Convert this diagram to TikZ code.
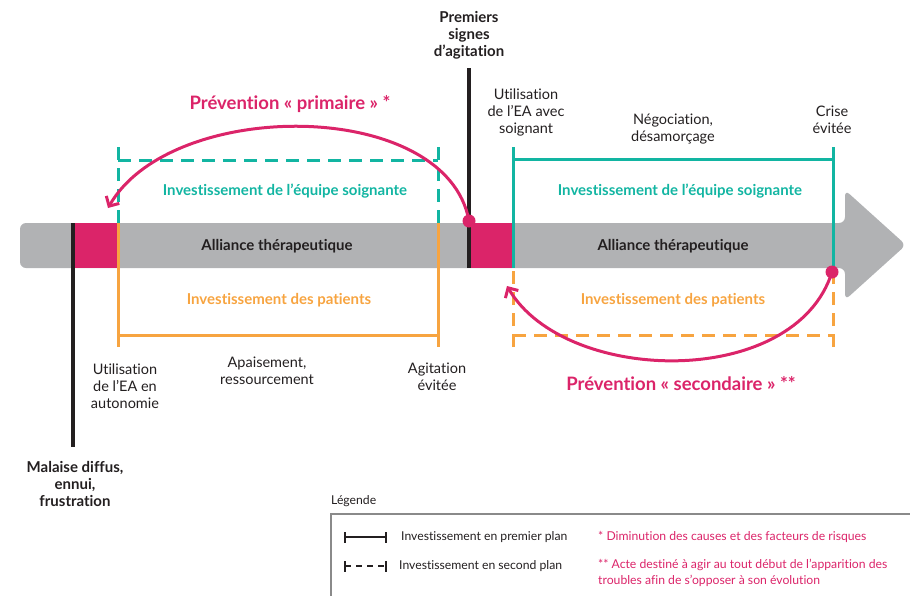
\documentclass[tikz,border=0pt]{standalone}
\usepackage{fontspec}
\setmainfont{Lato}[Ligatures=NoCommon]
\usetikzlibrary{arrows.meta}
\definecolor{mag}{HTML}{DB2469}
\definecolor{teal}{HTML}{12B5A2}
\definecolor{orng}{HTML}{F7A440}
\definecolor{bar}{HTML}{B1B2B4}
\definecolor{ink}{HTML}{231F20}
\definecolor{frame}{HTML}{8A8A8A}
\tikzset{
  lbl/.style={align=center,inner sep=0pt,text=ink,font=\fontsize{14.5}{17}\selectfont},
  blbl/.style={align=center,inner sep=0pt,text=ink,font=\fontsize{15}{17}\selectfont\bfseries},
  tlbl/.style={inner sep=0pt,text=teal,font=\fontsize{15}{17}\selectfont\bfseries},
  olbl/.style={inner sep=0pt,text=orng,font=\fontsize{15}{17}\selectfont\bfseries},
  alll/.style={inner sep=0pt,text=ink,font=\fontsize{15}{17}\selectfont\bfseries},
  prev/.style={inner sep=0pt,text=mag,font=\fontsize{18.5}{20}\selectfont\bfseries},
  leg/.style={inner sep=0pt,anchor=west,align=left,font=\fontsize{12.2}{15.5}\selectfont},
  blk/.style={line width=3.2pt,ink},
  tealbr/.style={line width=3pt,teal},
  orbr/.style={line width=3pt,orng},
  dsh/.style={dash pattern=on 13pt off 8pt},
  arc/.style={line width=3pt,mag,-{Straight Barb[length=7.5pt,width=15pt,line width=3pt]}},
}
\begin{document}
\begin{tikzpicture}[x=1pt,y=-1pt]
\useasboundingbox (0,0) rectangle (910,595);
\clip (0,0) rectangle (910,595);
% main bar arrow
\fill[bar,rounded corners=6pt] (20,223) -- (845,223) -- (845,190) -- (906,245) -- (845,300) -- (845,268) -- (20,268) -- cycle;
\fill[bar] (40,223) rectangle (845,268);
% magenta blocks
\fill[mag] (73,223) rectangle (118,268);
\fill[mag] (469,223) rectangle (513,268);
% coordinates
\coordinate (m1t) at (73,223);
\coordinate (m1b) at (73,447);
\coordinate (m2t) at (469,68);
\coordinate (m2b) at (469,268);
% black lines
\draw[blk] (m1t) -- (m1b);
\draw[blk] (m2t) -- (m2b);
% left teal dashed bracket
\draw[tealbr,dsh] (118,147) -- (118,223);
\draw[tealbr,dsh] (438,147) -- (438,223);
\draw[tealbr,dsh] (118,160) -- (438,160);
% left orange solid bracket
\draw[orbr] (118,223) -- (118,347);
\draw[orbr] (438,223) -- (438,347);
\draw[orbr] (118,335) -- (438,335);
% right teal solid bracket
\draw[tealbr] (513,147) -- (513,268);
\draw[tealbr] (833,147) -- (833,268);
\draw[tealbr] (513,159) -- (833,159);
% right orange dashed bracket
\draw[orbr,dsh] (513,347) -- (513,268);
\draw[orbr,dsh] (833,347) -- (833,268);
\draw[orbr,dsh] (513,335) -- (833,335);
% dots and arcs
\node[circle,fill=mag,minimum size=13pt,inner sep=0pt] (d1) at (469,221) {};
\node[circle,fill=mag,minimum size=13pt,inner sep=0pt] (d2) at (832,272) {};
\coordinate (a1) at (108,208);
\coordinate (a2) at (507,286);
\draw[arc] (d1.center) .. controls (447,98) and (172,97) .. (a1);
\draw[arc] (d2.center) .. controls (795,390) and (565,385) .. (a2);
% bar texts
\node[alll] (all1) at (277,246) {Alliance thérapeutique};
\node[alll] (all2) at (673,246) {Alliance thérapeutique};
\node[tlbl] (eq1) at (285,191) {Investissement de l’équipe soignante};
\node[tlbl] (eq2) at (680,191) {Investissement de l’équipe soignante};
\node[olbl] (pa1) at (279,300) {Investissement des patients};
\node[olbl] (pa2) at (673,300) {Investissement des patients};
\node[prev] (pr1) at (290,104) {Prévention « primaire » *};
\node[prev] (pr2) at (681,384) {Prévention « secondaire » **};
% other labels
\node[blbl] (prem) at (469,35) {Premiers\\signes\\d’agitation};
\node[lbl] (util2) at (526,112) {Utilisation\\de l’EA avec\\soignant};
\node[lbl] (nego) at (673,129) {Négociation,\\désamorçage};
\node[lbl] (crise) at (832,120) {Crise\\évitée};
\node[lbl] (util1) at (125,386) {Utilisation\\de l’EA en\\autonomie};
\node[lbl] (apai) at (267,371) {Apaisement,\\ressourcement};
\node[lbl] (agit) at (437,377) {Agitation\\évitée};
\node[blbl] (mal) at (75,484) {Malaise diffus,\\ennui,\\frustration};
% legend
\node[leg,text=ink] (legt) at (331,501) {Légende};
\draw[frame,line width=1.2pt] (331,514) rectangle (920,610);
\coordinate (ls1) at (345,537);
\coordinate (le1) at (386,537);
\coordinate (ls2) at (345,566);
\coordinate (le2) at (386,566);
\draw[ink,line width=2.2pt] (ls1) -- (le1);
\draw[ink,line width=2.2pt] ([yshift=-5.5pt]ls1) -- ([yshift=5.5pt]ls1);
\draw[ink,line width=2.2pt] ([yshift=-5.5pt]le1) -- ([yshift=5.5pt]le1);
\draw[ink,line width=2.2pt,dash pattern=on 6pt off 5pt] (ls2) -- (le2);
\draw[ink,line width=2.2pt] ([yshift=-5.5pt]ls2) -- ([yshift=5.5pt]ls2);
\draw[ink,line width=2.2pt] ([yshift=-5.5pt]le2) -- ([yshift=5.5pt]le2);
\node[leg,text=ink] (l1) at (401,537) {Investissement en premier plan};
\node[leg,text=ink] (l2) at (399,566) {Investissement en second plan};
\node[leg,text=mag] (n1) at (598,537) {* Diminution des causes et des facteurs de risques};
\node[leg,text=mag,anchor=north west] (n2) at (598,559) {** Acte destiné à agir au tout début de l’apparition des\\troubles afin de s’opposer à son évolution};
\end{tikzpicture}
\end{document}
